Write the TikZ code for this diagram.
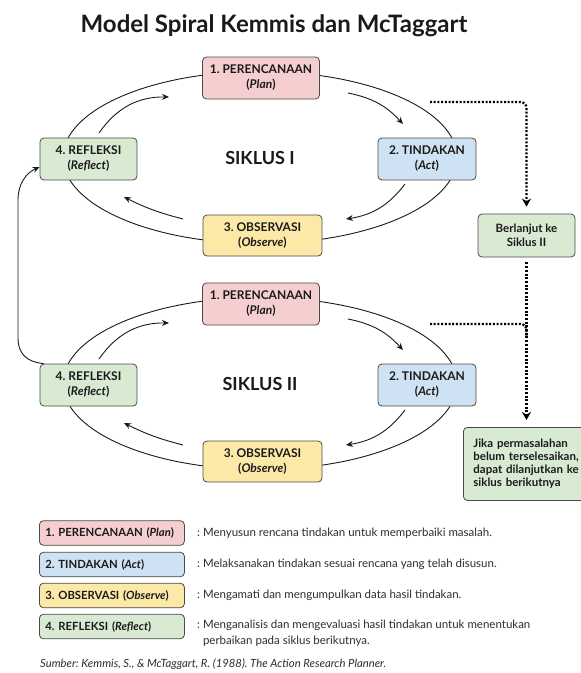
\documentclass[tikz,border=0pt]{standalone}
\usepackage{fontspec}
\setmainfont{Lato}
\usetikzlibrary{arrows.meta,calc}
\definecolor{pinkf}{HTML}{F5CFCF}
\definecolor{bluef}{HTML}{CFE2F3}
\definecolor{yellowf}{HTML}{FCE9A8}
\definecolor{greenf}{HTML}{D9EAD3}
\definecolor{edge}{HTML}{4A4A4A}
\definecolor{ink}{HTML}{1A1A1A}
\definecolor{desctext}{HTML}{2E2E2E}
\frenchspacing
\begin{document}
\begin{tikzpicture}[x=1pt,y=1pt,
  stage/.style={draw=edge, line width=0.8pt, rounded corners=4pt, minimum height=42pt,
    align=center, inner sep=0pt, text=ink, font=\bfseries\fontsize{12}{15}\selectfont},
  wide/.style={stage, minimum width=117pt},
  narrow/.style={stage, minimum width=97pt},
  cyclelabel/.style={text=ink, font=\bfseries\fontsize{18}{20}\selectfont},
  loopline/.style={draw=ink, line width=0.9pt},
  arr/.style={draw=ink, line width=0.9pt, -{Stealth[length=7pt,width=6pt]}},
  dots/.style={draw=black, line width=2.3pt, dash pattern=on 2pt off 1.7pt},
  dotarr/.style={-{Stealth[length=8pt,width=9pt]}},
  notebox/.style={draw=edge, line width=0.8pt, rounded corners=4pt, fill=greenf, text=ink,
    font=\bfseries\fontsize{11.5}{13.5}\selectfont},
  legendbox/.style={draw=edge, line width=0.8pt, rounded corners=4pt, minimum height=24.5pt,
    text width=133pt, inner xsep=6pt, inner ysep=0pt, align=left, anchor=west, text=ink,
    font=\bfseries\fontsize{11.3}{13}\selectfont},
  desc/.style={text=desctext, inner sep=0pt, align=left, font=\fontsize{11.5}{15.5}\selectfont}
]
\fill[white] (0,0) rectangle (581,-673);
\useasboundingbox (0,0) rectangle (581,-673);

% title
\node[anchor=base, text=ink, font=\bfseries\fontsize{24}{28}\selectfont] (title) at (274,-32)
  {Model Spiral Kemmis dan McTaggart};

% ellipses
\draw[loopline] (260,-157.5) ellipse [x radius=197pt, y radius=86pt];
\draw[loopline] (260,-383.5) ellipse [x radius=197pt, y radius=86pt];

% cycle I
\node[wide, fill=pinkf] (p1) at (261,-78) {1. PERENCANAAN\\(\textit{Plan})};
\node[narrow, fill=bluef, minimum width=98pt] (a1) at (427,-159) {2. TINDAKAN\\(\textit{Act})};
\node[narrow, fill=greenf] (r1) at (88.5,-159) {4. REFLEKSI\\(\textit{Reflect})};
\node[wide, fill=yellowf, minimum width=119pt, minimum height=41pt] (o1) at (262.5,-235.5) {3. OBSERVASI\\(\textit{Observe})};
\node[cyclelabel] (s1) at (260,-158) {SIKLUS I};

% cycle II
\node[wide, fill=pinkf] (p2) at (261,-304) {1. PERENCANAAN\\(\textit{Plan})};
\node[narrow, fill=bluef, minimum width=98pt] (a2) at (427,-385) {2. TINDAKAN\\(\textit{Act})};
\node[narrow, fill=greenf] (r2) at (88.5,-385) {4. REFLEKSI\\(\textit{Reflect})};
\node[wide, fill=yellowf, minimum width=119pt, minimum height=41pt] (o2) at (262.5,-461.5) {3. OBSERVASI\\(\textit{Observe})};
\node[cyclelabel] (s2) at (260,-384) {SIKLUS II};

% inner arrows cycle I
\coordinate (pa1s) at (348,-93);  \coordinate (pa1e) at (403,-124);
\coordinate (ao1s) at (405,-184); \coordinate (ao1e) at (346,-219);
\coordinate (or1s) at (183,-219); \coordinate (or1e) at (124,-197);
\coordinate (rp1s) at (99,-133);  \coordinate (rp1e) at (169,-97);
\draw[arr] (pa1s) to[bend left=18] (pa1e);
\draw[arr] (ao1s) to[bend left=22] (ao1e);
\draw[arr] (or1s) to[bend left=6] (or1e);
\draw[arr] (rp1s) to[bend left=28] (rp1e);

% inner arrows cycle II
\coordinate (pa2s) at (348,-319); \coordinate (pa2e) at (403,-350);
\coordinate (ao2s) at (405,-410); \coordinate (ao2e) at (346,-445);
\coordinate (or2s) at (183,-445); \coordinate (or2e) at (124,-423);
\coordinate (rp2s) at (99,-359);  \coordinate (rp2e) at (169,-323);
\draw[arr] (pa2s) to[bend left=18] (pa2e);
\draw[arr] (ao2s) to[bend left=22] (ao2e);
\draw[arr] (or2s) to[bend left=6] (or2e);
\draw[arr] (rp2s) to[bend left=28] (rp2e);

% feedback arrow from cycle II reflect to cycle I reflect
\draw[arr] ([xshift=4pt]r2.north west) .. controls (27,-362) and (18,-354) .. (18,-338)
  -- (18,-200) .. controls (18,-184) and (26,-173) .. ([yshift=-8pt]r1.west);

% side notes
\node[notebox, minimum width=97pt, minimum height=43pt, align=center, inner sep=0pt] (bl) at (526.5,-235.5)
  {Berlanjut ke\\Siklus II};
\node[notebox, anchor=north west, text width=125pt, inner xsep=10pt, inner ysep=0pt,
  minimum height=73pt, align=left, font=\bfseries\fontsize{11.5}{13}\selectfont] (jk) at (463,-427)
  {Jika permasalahan\\belum terselesaikan,\\dapat dilanjutkan ke\\siklus berikutnya};

% dotted connectors
\coordinate (d1) at (430,-102);
\coordinate (d2) at (430,-324);
\draw[dots, dotarr, rounded corners=6pt] (d1) -| ([yshift=7pt]bl.north);
\draw[dots, dotarr] ([yshift=-5pt]bl.south) -- ($(bl.south |- jk.north)+(0,7)$);
\draw[dots, rounded corners=6pt] (d2) -| ($(bl.south |- d2)+(0,-14)$);

% legend
\node[legendbox, fill=pinkf] (l1) at (39,-533) {1. PERENCANAAN (\textit{Plan})};
\node[legendbox, fill=bluef] (l2) at (39,-564.5) {2. TINDAKAN (\textit{Act})};
\node[legendbox, fill=yellowf] (l3) at (39,-595.5) {3. OBSERVASI (\textit{Observe})};
\node[legendbox, fill=greenf] (l4) at (39,-626.5) {4. REFLEKSI (\textit{Reflect})};

\node[desc, anchor=west] (t1) at (197,-533) {: Menyusun rencana tindakan untuk memperbaiki masalah.};
\node[desc, anchor=west] (t2) at (197,-564.5) {: Melaksanakan tindakan sesuai rencana yang telah disusun.};
\node[desc, anchor=west] (t3) at (197,-595.5) {: Mengamati dan mengumpulkan data hasil tindakan.};
\node[desc, anchor=north west] (t4) at (197,-620) {: Menganalisis dan mengevaluasi hasil tindakan untuk menentukan\\\hphantom{: }perbaikan pada siklus berikutnya.};

\node[anchor=base west, inner sep=0pt, text=desctext, font=\itshape\fontsize{11.3}{12}\selectfont] (src) at (40,-667)
  {Sumber: Kemmis, S., \& McTaggart, R. (1988). The Action Research Planner.};
\end{tikzpicture}
\end{document}
